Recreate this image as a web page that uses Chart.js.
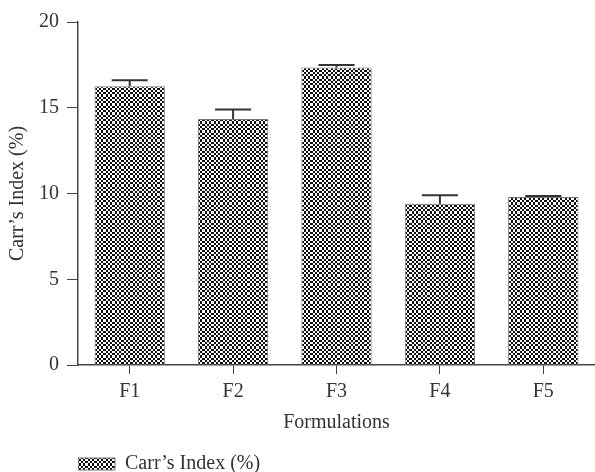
<!DOCTYPE html>
<html lang="en">
<head>
    <meta charset="UTF-8">
    <title>Carr's Index</title>
    <script src="https://cdn.jsdelivr.net/npm/chart.js@4.4.0/dist/chart.umd.min.js"></script>
    <style>
        body {
            margin: 0;
            background: #fff;
        }
        .wrap {
            width: 595px;
            height: 472px;
        }
    </style>
</head>
<body>
    <div class="wrap">
        <canvas id="carrChart" width="595" height="472"></canvas>
    </div>
    <script>
        var formulations = ['F1', 'F2', 'F3', 'F4', 'F5'];
        var carrIndex = [16.25, 14.35, 17.35, 9.4, 9.8];
        var carrErr = [0.35, 0.55, 0.15, 0.5, 0.05];
        var yTicks = [0, 5, 10, 15, 20];

        // checkerboard fill like the printed figure (cells of 2-3 px)
        function checkerPattern() {
            var edges = [0, 2, 4, 7, 9];
            var c = document.createElement('canvas');
            c.width = 9;
            c.height = 9;
            var g = c.getContext('2d');
            g.fillStyle = '#0e0e0e';
            g.fillRect(0, 0, 9, 9);
            g.fillStyle = '#ffffff';
            for (var r = 0; r < 4; r++) {
                for (var k = 0; k < 4; k++) {
                    if ((r + k) % 2 === 0) {
                        g.fillRect(edges[k], edges[r], edges[k + 1] - edges[k], edges[r + 1] - edges[r]);
                    }
                }
            }
            return g.createPattern(c, 'repeat');
        }

        // upper error bars only
        var errorBars = {
            id: 'errorBars',
            afterDatasetsDraw: function (chart) {
                var ctx = chart.ctx;
                var y = chart.scales.y;
                var meta = chart.getDatasetMeta(0);
                ctx.save();
                ctx.strokeStyle = '#333';
                ctx.lineWidth = 2;
                meta.data.forEach(function (bar, i) {
                    var top = y.getPixelForValue(carrIndex[i] + carrErr[i]);
                    var base = y.getPixelForValue(carrIndex[i]);
                    ctx.beginPath();
                    ctx.moveTo(bar.x, base);
                    ctx.lineTo(bar.x, top);
                    ctx.moveTo(bar.x - 18, top);
                    ctx.lineTo(bar.x + 18, top);
                    ctx.stroke();
                });
                ctx.restore();
            }
        };

        var font = { family: "'Liberation Serif', 'DejaVu Serif', serif", size: 20 };

        new Chart(document.getElementById('carrChart'), {
            type: 'bar',
            data: {
                labels: formulations,
                datasets: [{
                    label: 'Carr\u2019s Index (%)',
                    data: carrIndex,
                    backgroundColor: checkerPattern(),
                    borderColor: '#777',
                    borderWidth: 1,
                    categoryPercentage: 1,
                    barPercentage: 0.68
                }]
            },
            options: {
                responsive: false,
                animation: false,
                layout: { padding: { top: 22, right: 0, left: 6, bottom: -12 } },
                plugins: {
                    tooltip: { enabled: false },
                    legend: {
                        position: 'bottom',
                        align: 'start',
                        fullSize: false,
                        labels: {
                            color: '#333',
                            font: font,
                            boxWidth: 37,
                            boxHeight: 12,
                            padding: 0
                        }
                    }
                },
                scales: {
                    x: {
                        grid: { display: true, drawOnChartArea: false, color: '#444', tickLength: 9, offset: false },
                        border: { color: '#444', width: 1.5 },
                        ticks: { color: '#333', font: font, padding: 6 },
                        title: { display: true, text: 'Formulations', color: '#333', font: font, padding: { top: 1, bottom: 19 } }
                    },
                    y: {
                        min: 0,
                        max: 20,
                        afterBuildTicks: function (axis) {
                            axis.ticks = yTicks.map(function (v) { return { value: v }; });
                        },
                        grid: { display: true, drawOnChartArea: false, color: '#444', tickLength: 11 },
                        border: { color: '#444', width: 1.5 },
                        ticks: { color: '#333', font: font, padding: 8 },
                        title: { display: true, text: 'Carr\u2019s Index (%)', color: '#333', font: font, padding: { top: 0, bottom: 1 } }
                    }
                }
            },
            plugins: [errorBars]
        });
    </script>
</body>
</html>
